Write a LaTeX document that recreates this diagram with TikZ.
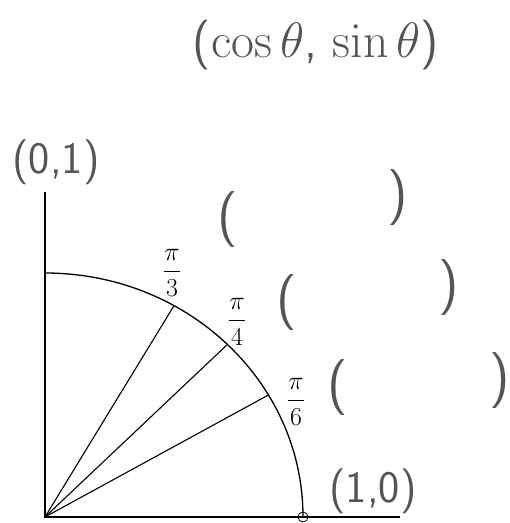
\documentclass[tikz,border=0pt]{standalone}
\usepackage{amsmath,amssymb}
\usepackage{tikz}
\usetikzlibrary{positioning}
\definecolor{pencil}{RGB}{85,85,85}
\tikzstyle{hand} = [text=pencil,font=\sffamily\fontsize{45}{50}\selectfont,inner sep=0pt]
\tikzstyle{paren} = [text=pencil,font=\sffamily\fontsize{56}{60}\selectfont,inner sep=0pt]
\tikzstyle{angle} = [font=\huge,scale=1.25,transform shape,inner sep=1pt]
\tikzstyle{ray} = [draw,line width=1.1pt]

\begin{document}
\begin{tikzpicture}[x=1pt,y=1pt]
            \useasboundingbox (0,0) rectangle (510,523);
            \node[hand,font=\sffamily\Huge,scale=2,transform shape] (title) at (316,478) {($\cos\theta$, $\sin\theta$)};
            \begin{scope}[shift={(45,6)}]
            \coordinate (O) at (0,0);
            \coordinate (xend) at (355,0);
            \coordinate (yend) at (0,325);
            \coordinate (top) at (0,244);
            \coordinate (one) at (258,0);
            \coordinate (p3) at (60:258 and 244);
            \coordinate (p4) at (45:258 and 244);
            \coordinate (p6) at (30:258 and 244);
            \draw[line width=1.6pt] (yend) -- (O) -- (xend);
            \draw[line width=1.3pt] (top) arc[start angle=90,end angle=0,x radius=258pt,y radius=244pt];
            \path[ray] (O) -- (p3);
            \path[ray] (O) -- (p4);
            \path[ray] (O) -- (p6);
            \draw[line width=0.8pt] (one) circle (5pt);
            \end{scope}
            \node[angle] (lab3) at (172,250) {$\dfrac{\pi}{3}$};
            \node[angle] (lab4) at (237,201) {$\dfrac{\pi}{4}$};
            \node[angle] (lab6) at (296,121) {$\dfrac{\pi}{6}$};
            \node[hand] (ptop) at (56,361) {(0,1)};
            \node[hand] (pright) at (373,32) {(1,0)};
            % empty pairs to fill in
            \node[paren] (open3) at (228,303) {(};
            \node[paren] (close3) at (398,325) {)};
            \node[paren] (open4) at (287,220) {(};
            \node[paren] (close4) at (449,235) {)};
            \node[paren] (open6) at (338,135) {(};
            \node[paren] (close6) at (500,142) {)};
        \end{tikzpicture}
\end{document}
